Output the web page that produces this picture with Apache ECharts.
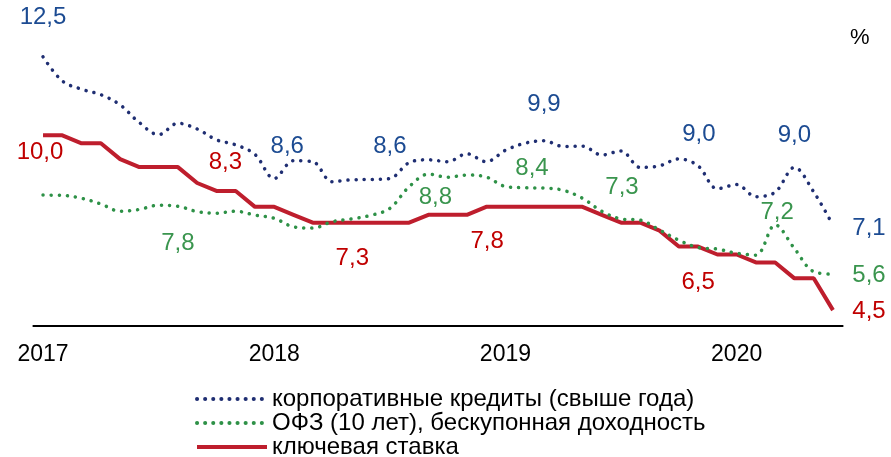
<!DOCTYPE html>
<html>
	<head>
		<meta charset="utf-8">
		<title>Ставки</title>
		<script src="https://cdn.jsdelivr.net/npm/echarts@6/dist/echarts.min.js"></script>
		<style>
			html, body { margin: 0; padding: 0; background: #fff; }
			#chart { width: 891px; height: 457px; }
		</style>
	</head>
	<body>
		<div id="chart"></div>
		<script>
			// месяцы: январь 2017 - июнь 2020
			var months = [];
			for (var y = 2017; y <= 2020; y++) {
				for (var m = 1; m <= 12; m++) {
					if (y === 2020 && m > 6) break;
					months.push(y + '-' + (m < 10 ? '0' + m : m));
				}
			}

			var credits = [12.47, 11.71, 11.45, 11.28, 10.96, 10.4, 10.02, 10.38, 10.2, 9.86, 9.7, 9.4,
				8.64, 9.2, 9.17, 8.54, 8.6, 8.61, 8.64, 9.14, 9.23, 9.17, 9.42, 9.17,
				9.53, 9.75, 9.83, 9.65, 9.66, 9.38, 9.51, 8.99, 9.04, 9.26, 9.04, 8.32,
				8.45, 8.07, 8.21, 8.99, 8.22, 7.17];
			var ofz = [8.12, 8.11, 8.02, 7.84, 7.61, 7.67, 7.8, 7.77, 7.6, 7.55, 7.61, 7.49,
				7.39, 7.12, 7.08, 7.28, 7.37, 7.48, 7.7, 8.38, 8.78, 8.68, 8.75, 8.69,
				8.39, 8.35, 8.34, 8.27, 8.02, 7.61, 7.37, 7.33, 7.02, 6.7, 6.47, 6.42,
				6.29, 6.23, 7.18, 6.44, 5.71, 5.63];
			var keyRate = [10, 10, 9.75, 9.75, 9.25, 9, 9, 9, 8.5, 8.25, 8.25, 7.75,
				7.75, 7.5, 7.25, 7.25, 7.25, 7.25, 7.25, 7.25, 7.5, 7.5, 7.5, 7.75,
				7.75, 7.75, 7.75, 7.75, 7.75, 7.5, 7.25, 7.25, 7, 6.5, 6.5, 6.25,
				6.25, 6, 6, 5.5, 5.5, 4.5];

			// подписи значений: [индекс месяца, текст]
			var creditsLabels = [[0, '12,5'], [12, '8,6'], [18, '8,6'], [26, '9,9'], [33, '9,0'], [39, '9,0'], [41, '7,1']];
			var ofzLabels = [[7, '7,8'], [20, '8,8'], [26, '8,4'], [30, '7,3'], [38, '7,2'], [41, '5,6']];
			var keyRateLabels = [[0, '10,0'], [9, '8,3'], [16, '7,3'], [23, '7,8'], [34, '6,5'], [41, '4,5']];

			var names = ['корпоративные кредиты (свыше года)', 'ОФЗ (10 лет), бескупонная доходность', 'ключевая ставка'];

			// смещения подписей относительно точки
			var offsets = {
				credits: {0: [0, -39], 12: [13, -32], 18: [0, -32], 26: [0, -36], 33: [20, -24], 39: [0, -32], 41: [36, 3]},
				ofz: {7: [0, 37], 20: [7, 23], 26: [-12, -20], 30: [1, -32], 38: [2, -13], 41: [36, 1]},
				keyRate: {0: [-3, 17], 9: [9, -29], 16: [1, 36], 23: [1, 35], 34: [0, 36], 41: [36, 1]}
			};

			function marks(labels, values, key, color) {
				return {
					symbol: 'circle',
					symbolSize: 1,
					itemStyle: { color: 'rgba(0,0,0,0)' },
					label: {
						show: true,
						position: 'inside',
						color: color,
						fontSize: 24,
						fontFamily: 'Liberation Sans, Arial, sans-serif'
					},
					data: labels.map(function(l) {
						return {
							coord: [l[0], values[l[0]]],
							value: l[1],
							label: { offset: offsets[key][l[0]], formatter: l[1] }
						};
					})
				};
			}

			var chart = echarts.init(document.getElementById('chart'));

			var option = {
				animation: false,
				title: {
					text: '%',
					left: 845,
					top: 22,
					textStyle: { fontSize: 22, fontWeight: 'normal', color: '#000', fontFamily: 'Liberation Sans, Arial, sans-serif' }
				},
				grid: { left: 33.4, right: 48.4, top: 40, bottom: 131 },
				legend: {
					orient: 'vertical',
					left: 195,
					top: 387,
					height: 80,
					padding: 0,
					itemWidth: 70,
					itemHeight: 10,
					itemGap: 0,
					itemStyle: { color: 'rgba(0,0,0,0)', borderWidth: 0 },
					lineStyle: { width: 4 },
					data: names,
					textStyle: { fontSize: 24, lineHeight: 22.5, color: '#000', fontFamily: 'Liberation Sans, Arial, sans-serif' }
				},
				xAxis: {
					type: 'category',
					data: months,
					boundaryGap: true,
					axisLine: { lineStyle: { color: '#000', width: 2 } },
					axisTick: { show: false },
					axisLabel: {
						interval: function(i) { return i % 12 === 0; },
						formatter: function(v) { return v.slice(0, 4); },
						margin: 17,
						fontSize: 23,
						color: '#000',
						fontFamily: 'Liberation Sans, Arial, sans-serif'
					}
				},
				yAxis: {
					type: 'value',
					min: 4,
					max: 13,
					show: false
				},
				series: [{
					name: names[2],
					type: 'line',
					data: keyRate,
					symbol: 'none',
					lineStyle: { color: '#BE1E2D', width: 4 },
					itemStyle: { color: '#BE1E2D' },
					markPoint: marks(keyRateLabels, keyRate, 'keyRate', '#C00000')
				}, {
					name: names[1],
					type: 'line',
					data: ofz,
					smooth: 0.35,
					symbol: 'none',
					lineStyle: { color: '#2E9147', width: 3.5, type: [0.1, 8], cap: 'round' },
					itemStyle: { color: '#2E9147' },
					markPoint: marks(ofzLabels, ofz, 'ofz', '#3A954E')
				}, {
					name: names[0],
					type: 'line',
					data: credits,
					smooth: 0.35,
					symbol: 'none',
					lineStyle: { color: '#1F2E72', width: 3.5, type: [0.1, 8], cap: 'round' },
					itemStyle: { color: '#1F2E72' },
					markPoint: marks(creditsLabels, credits, 'credits', '#1C4B92')
				}]
			};
			chart.setOption(option);
		</script>
	</body>
</html>
